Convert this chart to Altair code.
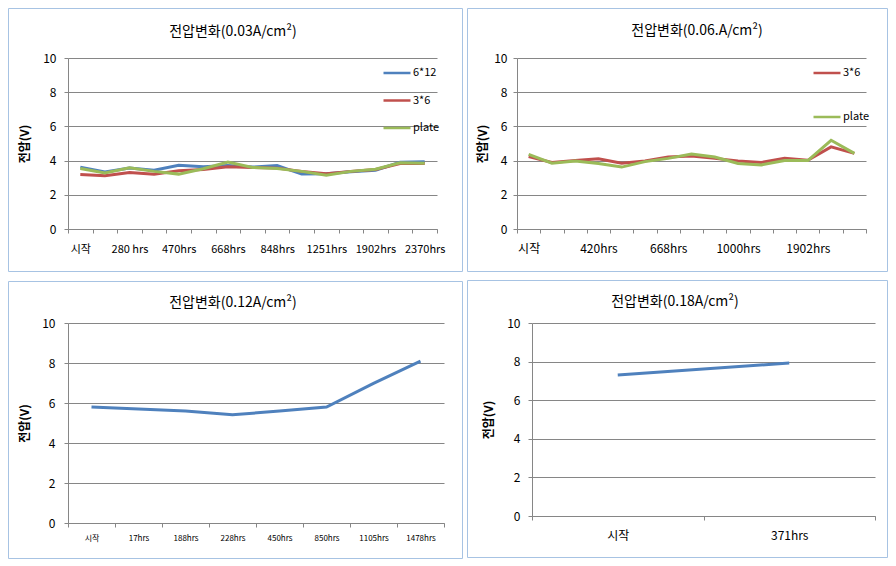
import json
import altair as alt
import pandas as pd

FONT = "Noto Sans CJK KR"
BLUE = "#4F81BD"
RED = "#C0504D"
GREEN = "#9BBB59"
GRID = "#868686"
BORDER = "#A7C3E3"

# ---- Panel 1: 0.03 A/cm2 ----
tl_title = "전압변화(0.03A/cm²)"
tl_labels = ["시작", "", "280 hrs", "", "470hrs", "", "668hrs", "", "848hrs", "",
             "1251hrs", "", "1902hrs", "", "2370hrs"]
tl_series = ["6*12", "3*6", "plate"]
tl_6x12 = [3.62, 3.33, 3.56, 3.44, 3.73, 3.64, 3.72, 3.62, 3.71, 3.21, 3.23, 3.35, 3.44, 3.90, 3.94]
tl_3x6 = [3.18, 3.12, 3.31, 3.20, 3.41, 3.48, 3.64, 3.60, 3.56, 3.37, 3.23, 3.37, 3.48, 3.83, 3.83]
tl_plate = [3.54, 3.27, 3.58, 3.37, 3.21, 3.52, 3.92, 3.60, 3.54, 3.37, 3.14, 3.37, 3.50, 3.87, 3.85]

# ---- Panel 2: 0.06 A/cm2 ----
tr_title = "전압변화(0.06.A/cm²)"
tr_labels = ["시작", "", "", "420hrs", "", "", "668hrs", "", "", "1000hrs", "", "",
             "1902hrs", "", ""]
tr_series = ["3*6", "plate"]
tr_3x6 = [4.23, 3.89, 4.00, 4.11, 3.85, 3.98, 4.21, 4.27, 4.13, 3.98, 3.89, 4.13, 4.02, 4.80, 4.42]
tr_plate = [4.36, 3.85, 3.98, 3.83, 3.62, 3.94, 4.13, 4.38, 4.21, 3.83, 3.75, 4.00, 4.00, 5.19, 4.42]

# ---- Panel 3: 0.12 A/cm2 ----
bl_title = "전압변화(0.12A/cm²)"
bl_labels = ["시작", "17hrs", "188hrs", "228hrs", "450hrs", "850hrs", "1105hrs", "1478hrs"]
bl_values = [5.80, 5.70, 5.60, 5.41, 5.60, 5.80, 6.98, 8.09]

# ---- Panel 4: 0.18 A/cm2 ----
br_title = "전압변화(0.18A/cm²)"
br_labels = ["시작", "371hrs"]
br_values = [7.30, 7.93]

Y_TITLE = "전압(V)"
Y_TICKS = [0, 2, 4, 6, 8, 10]


def make_df(names, series):
    rows = []
    for name, vals in zip(names, series):
        for i, v in enumerate(vals):
            rows.append({"i": i, "v": v, "s": name})
    return pd.DataFrame(rows)


def panel(df, labels, title, pw, ph, il, it, ir, ib, title_x, title_y,
          ytitle_x, ylab_pad, xlab_size, xlab_pad,
          single=False, domain=None, colors=None, legend_x=0, legend_y=0, row_pad=0):
    deco = pd.DataFrame({"t": [title]})
    frame = alt.Chart(deco).mark_rect(filled=False, stroke=BORDER, strokeWidth=1).encode(
        x=alt.value(-il + 0.5), x2=alt.value(pw + ir + 0.5),
        y=alt.value(-it + 0.5), y2=alt.value(ph + ib + 0.5),
    )
    ttl = alt.Chart(deco).mark_text(
        font=FONT, fontSize=14, color="black", align="center", baseline="middle"
    ).encode(x=alt.value(title_x), y=alt.value(title_y), text="t:N")

    label_expr = json.dumps(labels, ensure_ascii=False) + "[datum.value]"
    x = alt.X(
        "i:O",
        scale=alt.Scale(type="band", paddingInner=0, paddingOuter=0),
        axis=alt.Axis(
            title=None, labelExpr=label_expr, labelAngle=0, tickBand="extent",
            tickSize=4, tickColor=GRID, domainColor=GRID, labelFont=FONT,
            labelFontSize=xlab_size, labelColor="black", labelPadding=xlab_pad,
            grid=False, labelOverlap=False,
        ),
    )
    y = alt.Y(
        "v:Q",
        scale=alt.Scale(domain=[0, 10], nice=False),
        axis=alt.Axis(
            title=Y_TITLE, values=Y_TICKS, grid=True, gridColor=GRID, gridWidth=1,
            tickSize=4, tickColor=GRID, domainColor=GRID, labelFont=FONT,
            labelFontSize=12, labelColor="black", labelPadding=ylab_pad,
            titleFont=FONT, titleFontSize=12, titleFontWeight="bold",
            titleColor="black", titleX=ytitle_x, titleBaseline="middle",
        ),
    )
    if single:
        lines = alt.Chart(df).mark_line(strokeWidth=3, color=BLUE).encode(x=x, y=y)
    else:
        lines = alt.Chart(df).mark_line(strokeWidth=3).encode(
            x=x, y=y,
            color=alt.Color(
                "s:N",
                scale=alt.Scale(domain=domain, range=colors),
                legend=alt.Legend(
                    title=None, orient="none", legendX=legend_x, legendY=legend_y,
                    symbolType="stroke", symbolSize=729, symbolStrokeWidth=2.5,
                    labelFont=FONT, labelFontSize=11, labelColor="black",
                    labelOffset=1, rowPadding=row_pad, padding=0,
                ),
            ),
        )
    return alt.layer(frame, ttl, lines).properties(width=pw, height=ph)


tl = panel(make_df(tl_series, [tl_6x12, tl_3x6, tl_plate]), tl_labels, tl_title,
           369, 171, 60, 50, 25, 42, 165, -26, -44, 8, 11, 10,
           domain=tl_series, colors=[BLUE, RED, GREEN], legend_x=314, legend_y=0, row_pad=7.5)
tr = panel(make_df(tr_series, [tr_3x6, tr_plate]), tr_labels, tr_title,
           349, 171, 50, 50, 21, 42, 180, -27, -35, 6, 12, 10,
           domain=tr_series, colors=[RED, GREEN], legend_x=295, legend_y=0, row_pad=24)
bl = panel(make_df(["v"], [bl_values]), bl_labels, bl_title,
           376, 200, 60, 42, 18, 35, 165, -20, -44, 9, 8, 7, single=True)
br = panel(make_df(["v"], [br_values]), br_labels, br_title,
           343, 193, 65, 43, 12, 41, 143, -21, -44, 8, 12, 10, single=True)

top = alt.hconcat(tl, tr, spacing=4).resolve_scale(color="independent", x="independent", y="independent")
bottom = alt.hconcat(bl, br, spacing=4).resolve_scale(x="independent", y="independent")

chart = (
    alt.vconcat(top, bottom, spacing=8)
    .resolve_scale(color="independent", x="independent", y="independent")
    .properties(padding=0, background="white")
    .configure_view(strokeOpacity=0)
)

chart.save("out.html", embed_options={"renderer": "svg", "actions": False})
